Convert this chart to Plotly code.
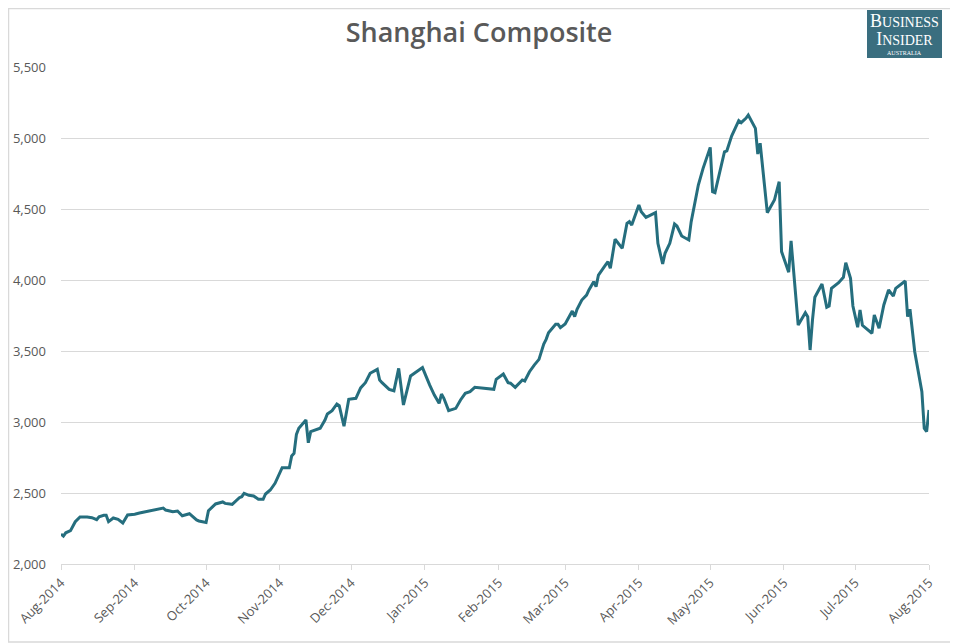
import plotly.graph_objects as go

# Shanghai Composite close (vertices of the line)
dates = [
    "2014-08-01", "2014-08-02", "2014-08-03", "2014-08-05", "2014-08-07", "2014-08-09",
    "2014-08-12", "2014-08-14", "2014-08-16", "2014-08-17", "2014-08-19", "2014-08-20",
    "2014-08-21", "2014-08-23", "2014-08-25", "2014-08-27", "2014-08-29", "2014-09-01",
    "2014-09-03", "2014-09-05", "2014-09-13", "2014-09-14", "2014-09-16", "2014-09-17",
    "2014-09-19", "2014-09-21", "2014-09-24", "2014-09-27", "2014-09-28", "2014-10-01",
    "2014-10-02", "2014-10-05", "2014-10-08", "2014-10-09", "2014-10-11", "2014-10-12",
    "2014-10-15", "2014-10-16", "2014-10-17", "2014-10-19", "2014-10-21", "2014-10-23",
    "2014-10-25", "2014-10-26", "2014-10-28", "2014-10-30", "2014-11-02", "2014-11-05",
    "2014-11-06", "2014-11-07", "2014-11-08", "2014-11-09", "2014-11-12", "2014-11-13",
    "2014-11-14", "2014-11-15", "2014-11-18", "2014-11-20", "2014-11-21", "2014-11-23",
    "2014-11-25", "2014-11-26", "2014-11-28", "2014-11-30", "2014-12-03", "2014-12-05",
    "2014-12-07", "2014-12-09", "2014-12-12", "2014-12-13", "2014-12-14", "2014-12-17",
    "2014-12-19", "2014-12-21", "2014-12-23", "2014-12-26", "2014-12-31", "2015-01-03",
    "2015-01-05", "2015-01-07", "2015-01-08", "2015-01-09", "2015-01-11", "2015-01-14",
    "2015-01-16", "2015-01-18", "2015-01-20", "2015-01-22", "2015-01-28", "2015-01-30",
    "2015-01-31", "2015-02-03", "2015-02-05", "2015-02-06", "2015-02-08", "2015-02-11",
    "2015-02-12", "2015-02-14", "2015-02-16", "2015-02-18", "2015-02-20", "2015-02-21",
    "2015-02-22", "2015-02-25", "2015-02-26", "2015-02-27", "2015-03-01", "2015-03-04",
    "2015-03-05", "2015-03-06", "2015-03-08", "2015-03-10", "2015-03-11", "2015-03-13",
    "2015-03-14", "2015-03-15", "2015-03-18", "2015-03-19", "2015-03-20", "2015-03-22",
    "2015-03-25", "2015-03-27", "2015-03-28", "2015-03-29", "2015-04-01", "2015-04-02",
    "2015-04-04", "2015-04-06", "2015-04-08", "2015-04-09", "2015-04-11", "2015-04-12",
    "2015-04-14", "2015-04-16", "2015-04-17", "2015-04-19", "2015-04-22", "2015-04-23",
    "2015-04-24", "2015-04-26", "2015-04-28", "2015-05-01", "2015-05-02", "2015-05-03",
    "2015-05-07", "2015-05-08", "2015-05-10", "2015-05-13", "2015-05-14", "2015-05-16",
    "2015-05-17", "2015-05-20", "2015-05-21", "2015-05-22", "2015-05-25", "2015-05-28",
    "2015-05-30", "2015-05-31", "2015-06-03", "2015-06-04", "2015-06-07", "2015-06-10",
    "2015-06-11", "2015-06-12", "2015-06-13", "2015-06-14", "2015-06-17", "2015-06-19",
    "2015-06-20", "2015-06-21", "2015-06-24", "2015-06-26", "2015-06-27", "2015-06-29",
    "2015-06-30", "2015-07-02", "2015-07-03", "2015-07-04", "2015-07-08", "2015-07-09",
    "2015-07-11", "2015-07-13", "2015-07-15", "2015-07-17", "2015-07-18", "2015-07-22",
    "2015-07-23", "2015-07-24", "2015-07-26", "2015-07-29", "2015-07-30", "2015-07-31",
    "2015-08-01",
]
close = [
    2211, 2197, 2220, 2235, 2298, 2331,
    2331, 2326, 2312, 2333, 2343, 2343,
    2298, 2324, 2315, 2289, 2345, 2350,
    2359, 2366, 2394, 2380, 2375, 2368,
    2373, 2340, 2354, 2310, 2303, 2292,
    2375, 2423, 2437, 2427, 2423, 2420,
    2467, 2474, 2498, 2484, 2479, 2456,
    2456, 2493, 2521, 2568, 2678, 2678,
    2761, 2779, 2913, 2956, 3014, 2854,
    2932, 2937, 2956, 3014, 3056, 3080,
    3127, 3115, 2970, 3160, 3167, 3240,
    3277, 3343, 3371, 3296, 3277, 3230,
    3220, 3378, 3120, 3324, 3383, 3261,
    3190, 3132, 3197, 3167, 3080, 3096,
    3155, 3202, 3214, 3244, 3237, 3230,
    3301, 3338, 3277, 3273, 3244, 3296,
    3289, 3354, 3401, 3441, 3549, 3582,
    3629, 3688, 3688, 3664, 3690, 3782,
    3742, 3794, 3859, 3894, 3930, 3988,
    3953, 4035, 4106, 4129, 4082, 4287,
    4223, 4399, 4411, 4387, 4528, 4481,
    4441, 4458, 4474, 4258, 4113, 4188,
    4258, 4394, 4380, 4310, 4282, 4411,
    4493, 4669, 4786, 4934, 4622, 4615,
    4903, 4910, 5014, 5122, 5108, 5139,
    5162, 5068, 4887, 4963, 4474, 4563,
    4692, 4200, 4055, 4275, 3683, 3770,
    3742, 3507, 3718, 3878, 3972, 3808,
    3817, 3941, 3981, 4019, 4122, 4012,
    3817, 3667, 3789, 3681, 3625, 3754,
    3660, 3824, 3930, 3887, 3941, 3993,
    3742, 3794, 3495, 3213, 2956, 2932,
    3085,
]

# the page body has an 8px margin, so the figure is shifted by that much
OFF = 8
W, H = 958 - OFF, 643 - OFF
L, R, T, B = 61 - OFF, 29, 67 - OFF, 79
pw, ph = W - L - R, H - T - B


def px(x):
    # page pixel -> paper coordinate
    return (x - OFF - L) / pw


def py(y):
    return (H - B - (y - OFF)) / ph


fig = go.Figure(go.Scatter(
    x=dates, y=close, mode="lines",
    line=dict(color="#256e7e", width=3),
    hoverinfo="skip",
))

fig.update_layout(
    width=W, height=H,
    margin=dict(l=L, r=R, t=T, b=B, autoexpand=False),
    paper_bgcolor="white", plot_bgcolor="white",
    showlegend=False,
    font=dict(family="Open Sans", color="#595959"),
    title=dict(
        text="Shanghai Composite", x=(479 - OFF) / W, xanchor="center",
        y=1 - (33 - OFF) / H, yanchor="middle",
        font=dict(family="Open Sans", size=27, color="#595959", weight=600),
    ),
    xaxis=dict(
        type="date",
        range=["2014-08-01", "2015-08-01"],
        tick0="2014-08-01", dtick="M1", tickformat="%b-%Y",
        tickangle=-45, automargin=False,
        showgrid=False, zeroline=False,
        showline=True, linecolor="#d9d9d9", linewidth=1,
        ticks="outside", ticklen=5, tickcolor="#d9d9d9",
        tickfont=dict(size=13, color="#595959"),
    ),
    yaxis=dict(
        range=[2000, 5500], dtick=500, tickformat=",",
        automargin=False,
        showgrid=True, gridcolor="#d9d9d9", gridwidth=1,
        zeroline=False, showline=False,
        ticks="", ticklabelstandoff=14,
        tickfont=dict(size=13, color="#595959"),
    ),
)

# chart border
fig.add_shape(type="rect", xref="paper", yref="paper",
              x0=px(OFF + 0.5), x1=px(OFF + W - 1), y0=py(OFF + H - 1), y1=py(OFF + 0.5),
              line=dict(color="#d9d9d9", width=1.5), layer="below")

# Business Insider Australia badge
fig.add_shape(type="rect", xref="paper", yref="paper",
              x0=px(867), x1=px(942), y0=py(58), y1=py(10),
              fillcolor="#3a6e7f", line=dict(width=0))
fig.add_annotation(
    x=px(904.5), y=py(30), xref="paper", yref="paper",
    text="<span style='font-size:18px'>B</span>USINESS<br>"
         "<span style='font-size:18px'>I</span>NSIDER",
    showarrow=False, xanchor="center", yanchor="middle",
    font=dict(family="Liberation Serif", size=14, color="white"),
)
fig.add_annotation(
    x=px(904.5), y=py(53), xref="paper", yref="paper",
    text="AUSTRALIA", showarrow=False, xanchor="center", yanchor="middle",
    font=dict(family="Liberation Serif", size=6, color="white"),
)

fig.write_html("out.html")
